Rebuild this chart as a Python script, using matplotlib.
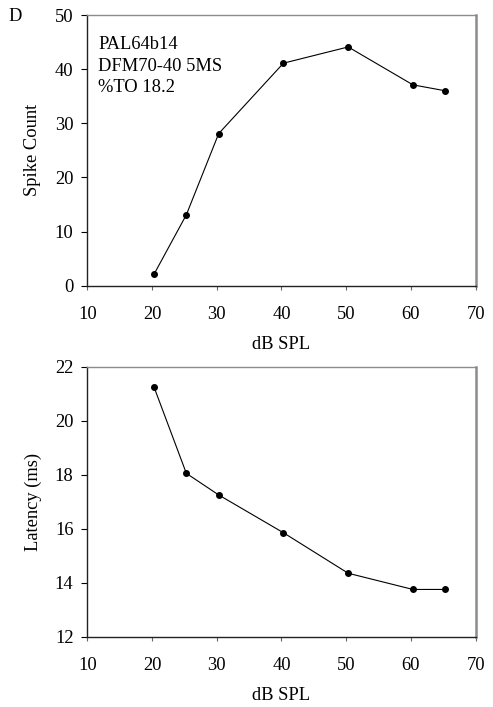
"""
rate-level and latency-level functions, panel D
"""

import matplotlib
matplotlib.use('Agg')
import matplotlib.pyplot as plt

# data
db_spl = [20.3, 25.3, 30.3, 40.3, 50.3, 60.3, 65.3]
spike_count = [2.1, 13.1, 28.1, 41.1, 44.1, 37.1, 36.0]
latency_ms = [21.25, 18.05, 17.25, 15.85, 14.35, 13.75, 13.75]

x_ticks = [10, 20, 30, 40, 50, 60, 70]
count_ticks = [0, 10, 20, 30, 40, 50]
latency_ticks = [12, 14, 16, 18, 20, 22]
info_lines = ['PAL64b14', 'DFM70-40 5MS', '%TO 18.2']

FS = 13.3
plt.rcParams['font.family'] = ['Liberation Serif', 'DejaVu Serif']
plt.rcParams['font.size'] = FS

W, H = 493, 707
fig = plt.figure(figsize=(W / 100, H / 100), dpi=100)


def axes_px(left, top, right, bottom):
    return fig.add_axes([left / W, 1 - bottom / H, (right - left) / W, (bottom - top) / H])


def style_axes(ax, yticks, ylabel):
    ax.set_xlim(10, 70)
    ax.set_ylim(yticks[0], yticks[-1])
    ax.set_xticks(x_ticks)
    ax.set_yticks(yticks)
    for side in ['top', 'right']:
        ax.spines[side].set_color('#8c8c8c')
    ax.spines['right'].set_linewidth(1.8)
    ax.spines['top'].set_linewidth(1.0)
    for side in ['left', 'bottom']:
        ax.spines[side].set_color('#222222')
        ax.spines[side].set_linewidth(1.0)
    ax.tick_params(axis='y', direction='out', length=4, width=0.8, pad=6, labelsize=FS)
    ax.tick_params(axis='x', direction='out', length=3, width=0.8, pad=11.5, labelsize=FS,
                   color='#666666')
    ax.set_xlabel('dB SPL', fontsize=FS, va='center')
    ax.set_ylabel(ylabel, fontsize=FS, va='center')
    ax.xaxis.set_label_coords(0.5, -0.219)
    ax.yaxis.set_label_coords(-0.14, 0.5)


ax1 = axes_px(87.3, 15, 475.7, 285.7)
ax1.plot(db_spl, spike_count, color='black', lw=0.8, marker='o', ms=4, clip_on=False)
style_axes(ax1, count_ticks, 'Spike Count')
for line, base in zip(info_lines, [49.3, 71.0, 92.0]):
    fig.text(98 / W, 1 - base / H, line, ha='left', va='baseline', fontsize=FS)

ax2 = axes_px(87.3, 366.7, 475.7, 636.7)
ax2.plot(db_spl, latency_ms, color='black', lw=0.8, marker='o', ms=4, clip_on=False)
style_axes(ax2, latency_ticks, 'Latency (ms)')

fig.text(15 / W, 1 - 20.7 / H, 'D', ha='center', va='baseline', fontsize=FS)

fig.savefig('out.png', dpi=100)
